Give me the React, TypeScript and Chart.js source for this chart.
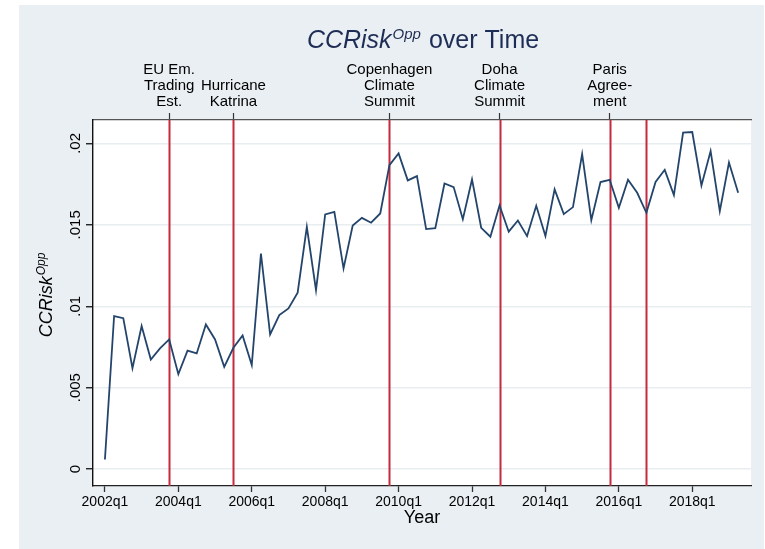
import React, { useEffect, useRef } from "react";
import { Chart, registerables } from "chart.js";

Chart.register(...registerables);

// ---- data ----
const startYear = 2002;
const endYear = 2019;
const quarterLabels: string[] = [];
for (let y = startYear; y <= endYear; y++) {
  for (let q = 1; q <= 4; q++) quarterLabels.push(`${y}q${q}`);
}

const ccriskOpp = [
  0.00059, 0.0094, 0.00927, 0.0062, 0.00878, 0.00673, 0.00741, 0.00796, 0.00583, 0.00727,
  0.0071, 0.00888, 0.00796, 0.00628, 0.00745, 0.00821, 0.00639, 0.01324, 0.00827, 0.00946,
  0.00987, 0.01083, 0.01488, 0.01099, 0.01564, 0.0158, 0.01232, 0.01496, 0.01543, 0.01513,
  0.0157, 0.01867, 0.01939, 0.01773, 0.01799, 0.01474, 0.0148, 0.01754, 0.01732, 0.01535,
  0.01779, 0.01482, 0.01427, 0.01619, 0.01458, 0.01527, 0.01431, 0.01617, 0.01431, 0.01718,
  0.01566, 0.01609, 0.01934, 0.01529, 0.01763, 0.01777, 0.01605, 0.01777, 0.01697, 0.01574,
  0.01763, 0.01838, 0.01683, 0.02066, 0.0207, 0.01742, 0.01953, 0.01584, 0.01883, 0.01697,
];

const xTickLabels = ["2002q1", "2004q1", "2006q1", "2008q1", "2010q1", "2012q1", "2014q1", "2016q1", "2018q1"];
const yTickValues = [0, 0.005, 0.01, 0.015, 0.02];
const yTickLabels = ["0", ".005", ".01", ".015", ".02"];

const eventQuarters = ["2003q4", "2005q3", "2009q4", "2012q4", "2015q4", "2016q4"];
const eventLabels: string[][] = [
  ["EU Em.", "Trading", "Est."],
  ["Hurricane", "Katrina"],
  ["Copenhagen", "Climate", "Summit"],
  ["Doha", "Climate", "Summit"],
  ["Paris", "Agree-", "ment"],
  [],
];

const FONT = "'Liberation Sans', Arial, Helvetica, sans-serif";
const NAVY = "#1e2d55";
const LINE = "#24456b";
const RED = "#c62a3e";

export default function App() {
  const ref = useRef<HTMLCanvasElement | null>(null);

  useEffect(() => {
    const canvas = ref.current;
    if (!canvas) return;

    const eventIdx = eventQuarters.map((q) => quarterLabels.indexOf(q));
    const labeledEvents = eventIdx
      .map((idx, i) => ({ idx, label: eventLabels[i] }))
      .filter((e) => e.label.length > 0);
    const xTickIdx = xTickLabels.map((l) => quarterLabels.indexOf(l));

    const decor = {
      id: "decor",
      beforeDraw(chart: any) {
        const { ctx, chartArea } = chart;
        ctx.save();
        ctx.fillStyle = "#ffffff";
        ctx.fillRect(0, 0, chart.width, chart.height);
        ctx.fillStyle = "#eaeff3";
        ctx.fillRect(19, 5, 745, chart.height - 5);
        ctx.fillStyle = "#ffffff";
        ctx.fillRect(chartArea.left, chartArea.top, chartArea.right - chartArea.left, chartArea.bottom - chartArea.top);
        ctx.restore();
      },
      beforeDatasetsDraw(chart: any) {
        const { ctx, chartArea } = chart;
        const xs = chart.scales.x;
        ctx.save();
        ctx.strokeStyle = RED;
        ctx.lineWidth = 2;
        eventIdx.forEach((idx) => {
          const px = Math.round(xs.getPixelForValue(idx)) + 0.5;
          ctx.beginPath();
          ctx.moveTo(px, chartArea.top);
          ctx.lineTo(px, chartArea.bottom);
          ctx.stroke();
        });
        ctx.restore();
      },
      afterDraw(chart: any) {
        const { ctx } = chart;
        const ys = chart.scales.y;
        ctx.save();
        // Title
        const cx = 423;
        const base = 48;
        ctx.fillStyle = NAVY;
        ctx.textBaseline = "alphabetic";
        ctx.textAlign = "left";
        const f1 = `italic 25px ${FONT}`;
        const f2 = `italic 15px ${FONT}`;
        const f3 = `25px ${FONT}`;
        ctx.font = f1;
        const w1 = ctx.measureText("CCRisk").width;
        ctx.font = f2;
        const w2 = ctx.measureText("Opp").width;
        ctx.font = f3;
        const w3 = ctx.measureText(" over Time").width;
        const x0 = cx - (w1 + w2 + 2 + w3) / 2;
        ctx.font = f1;
        ctx.fillText("CCRisk", x0, base);
        ctx.font = f2;
        ctx.fillText("Opp", x0 + w1 + 1, base - 9);
        ctx.font = f3;
        ctx.fillText(" over Time", x0 + w1 + w2 + 2, base);

        // Y axis title
        ctx.fillStyle = "#000000";
        const g1 = `italic 18px ${FONT}`;
        const g2 = `italic 12px ${FONT}`;
        ctx.font = g1;
        const v1 = ctx.measureText("CCRisk").width;
        ctx.font = g2;
        const v2 = ctx.measureText("Opp").width;
        ctx.translate(52, 295);
        ctx.rotate(-Math.PI / 2);
        const s0 = -(v1 + v2 + 1) / 2;
        ctx.font = g1;
        ctx.fillText("CCRisk", s0, 0);
        ctx.font = g2;
        ctx.fillText("Opp", s0 + v1 + 1, -7);
        ctx.restore();

        // Y tick labels (rotated)
        ctx.save();
        ctx.fillStyle = "#000000";
        ctx.font = `15px ${FONT}`;
        ctx.textAlign = "center";
        ctx.textBaseline = "alphabetic";
        yTickValues.forEach((v, i) => {
          const py = ys.getPixelForValue(v);
          ctx.save();
          ctx.translate(80, py);
          ctx.rotate(-Math.PI / 2);
          ctx.fillText(yTickLabels[i], 0, 0);
          ctx.restore();
        });
        ctx.restore();
      },
    };

    const chart = new Chart(canvas, {
      type: "line",
      data: {
        datasets: [
          {
            label: "CCRisk Opp",
            data: ccriskOpp.map((v, i) => ({ x: i, y: v })),
            borderColor: LINE,
            borderWidth: 1.8,
            pointRadius: 0,
            tension: 0,
            fill: false,
          },
        ],
      },
      options: {
        animation: false,
        responsive: false,
        maintainAspectRatio: false,
        layout: { padding: { left: 0, right: 14, top: 0, bottom: 20 } },
        plugins: { legend: { display: false }, title: { display: false }, tooltip: { enabled: false } },
        scales: {
          x: {
            type: "linear",
            position: "bottom",
            min: -1.3,
            max: 70.4,
            afterBuildTicks: (s: any) => {
              s.ticks = xTickIdx.map((v) => ({ value: v }));
            },
            afterFit: (s: any) => {
              s.height = 43;
              s.paddingLeft = 0;
              s.paddingRight = 0;
            },
            ticks: {
              autoSkip: false,
              maxRotation: 0,
              minRotation: 0,
              padding: 2,
              color: "#000000",
              font: { family: FONT, size: 14 },
              callback: (v: any) => quarterLabels[Number(v)] ?? "",
            },
            grid: { drawOnChartArea: false, drawTicks: true, tickLength: 6, tickColor: "#333333", tickWidth: 1.3 },
            border: { display: true, color: "#222222", width: 1.3 },
            title: { display: true, text: "Year", color: "#000000", font: { family: FONT, size: 18 }, padding: { top: 0, bottom: 0 } },
          },
          xTop: {
            type: "linear",
            position: "top",
            min: -1.3,
            max: 70.4,
            afterBuildTicks: (s: any) => {
              s.ticks = labeledEvents.map((e) => ({ value: e.idx }));
            },
            afterFit: (s: any) => {
              s.height = 120;
              s.paddingLeft = 0;
              s.paddingRight = 0;
            },
            ticks: {
              autoSkip: false,
              maxRotation: 0,
              minRotation: 0,
              padding: 3,
              color: "#000000",
              font: { family: FONT, size: 15, lineHeight: 1.07 },
              callback: (v: any) => {
                const e = labeledEvents.find((ev) => ev.idx === Number(v));
                return e ? e.label : "";
              },
            },
            grid: { drawOnChartArea: false, drawTicks: true, tickLength: 7, tickColor: "#333333", tickWidth: 1.2 },
            border: { display: true, color: "#555555", width: 1.3 },
          },
          y: {
            type: "linear",
            position: "left",
            min: -0.00104,
            max: 0.02144,
            afterBuildTicks: (s: any) => {
              s.ticks = yTickValues.map((v) => ({ value: v }));
            },
            afterFit: (s: any) => {
              s.width = 93;
            },
            ticks: { display: false },
            grid: {
              drawOnChartArea: true,
              drawTicks: true,
              tickLength: 7,
              color: "#e8eef0",
              lineWidth: 1.5,
              tickColor: "#111111",
              tickWidth: 1.3,
            },
            border: { display: true, color: "#111111", width: 1.4 },
          },
        },
      },
      plugins: [decor],
    } as any);

    return () => chart.destroy();
  }, []);

  return (
    <div style={{ position: "absolute", left: 0, top: 0, width: 765, height: 549 }}>
      <canvas ref={ref} width={765} height={549} style={{ display: "block", width: 765, height: 549 }} />
    </div>
  );
}
